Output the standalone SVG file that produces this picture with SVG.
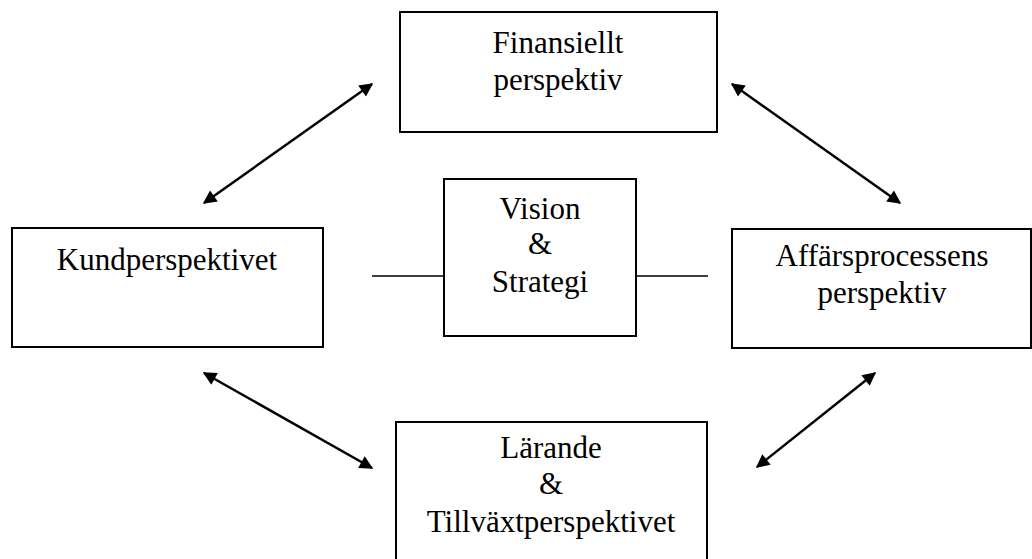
<svg xmlns="http://www.w3.org/2000/svg" width="1032" height="559" viewBox="0 0 1032 559">
<defs>
<marker id="ah" viewBox="0 0 10 10" refX="9" refY="5" markerWidth="7" markerHeight="5.4" markerUnits="strokeWidth" orient="auto-start-reverse">
<path d="M0,0 L10,5 L0,10 z" fill="#000"/>
</marker>
<style>
.box{fill:#fff;stroke:#000;stroke-width:2}
.t{font-family:"Liberation Serif","Times New Roman",serif;font-size:31px;fill:#000;text-anchor:middle}
.arr{stroke:#000;stroke-width:2.5;fill:none;marker-start:url(#ah);marker-end:url(#ah)}
.ln{stroke:#000;stroke-width:1.5;fill:none}
</style>
</defs>
<rect width="1032" height="559" fill="#fff"/>
<g id="connectors">
<line class="arr" x1="204" y1="203" x2="372" y2="84"/>
<line class="arr" x1="732" y1="84" x2="900" y2="203"/>
<line class="arr" x1="204" y1="373" x2="372" y2="468"/>
<line class="arr" x1="757" y1="467" x2="875" y2="373"/>
<line class="ln" x1="372" y1="276" x2="444" y2="276"/>
<line class="ln" x1="636" y1="276" x2="708" y2="276"/>
</g>
<g id="finansiellt">
<rect class="box" x="400" y="12" width="317" height="120"/>
<text class="t" x="558" y="53">Finansiellt</text>
<text class="t" x="558" y="90">perspektiv</text>
</g>
<g id="kund">
<rect class="box" x="12" y="228" width="311" height="119"/>
<text class="t" x="167" y="270">Kundperspektivet</text>
</g>
<g id="vision">
<rect class="box" x="444" y="179" width="192" height="157"/>
<text class="t" x="540" y="219">Vision</text>
<text class="t" x="540" y="254">&amp;</text>
<text class="t" x="540" y="292">Strategi</text>
</g>
<g id="affars">
<rect class="box" x="732" y="229" width="299" height="119"/>
<text class="t" x="882" y="266">Affärsprocessens</text>
<text class="t" x="882" y="303">perspektiv</text>
</g>
<g id="larande">
<rect class="box" x="396" y="422" width="311" height="145"/>
<text class="t" x="551" y="458">Lärande</text>
<text class="t" x="551" y="494">&amp;</text>
<text class="t" x="551" y="532">Tillväxtperspektivet</text>
</g>
</svg>
